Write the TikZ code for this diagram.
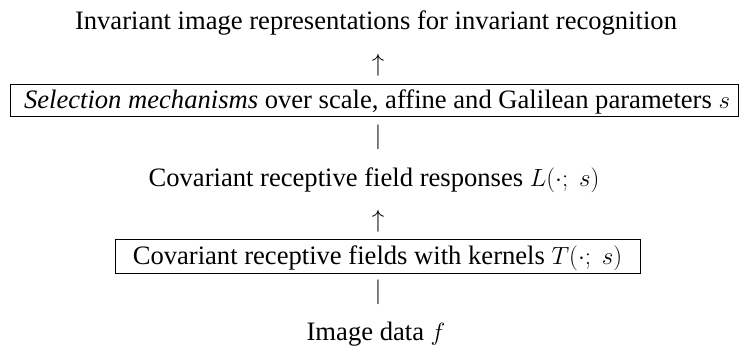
\documentclass[tikz,border=0pt]{standalone}
\usepackage[no-math]{fontspec}
\setmainfont{Liberation Serif}
\begin{document}
\begin{tikzpicture}[x=1pt,y=-1pt,
  every node/.style={font=\fontsize{26.6}{30}\selectfont, inner sep=0pt, anchor=base},
  boxnode/.style={draw, line width=0.8pt}]
\useasboundingbox (0,0) rectangle (741,346);
\node (title) at (376,29) {Invariant image representations for invariant recognition};
\node (a1) at (378,71) {$\uparrow$};
\node[boxnode, minimum width=728pt, text height=23.7pt, text depth=8.7pt] (sel) at (374,108)
  {\hspace*{6pt}\textit{Selection mechanisms} over scale, affine and Galilean parameters $s$};
\node (b1) at (378,143) {$|$};
\node (resp) at (374,186) {Covariant receptive field responses $L(\cdot;\ s)$};
\node (a2) at (378,227.7) {$\uparrow$};
\node[boxnode, minimum width=525pt, text height=24.7pt, text depth=9.3pt] (rf) at (377.5,264)
  {Covariant receptive fields with kernels $T(\cdot;\ s)$};
\node (b2) at (378,298.5) {$|$};
\node (img) at (376,340) {Image data $f$};
\end{tikzpicture}
\end{document}
